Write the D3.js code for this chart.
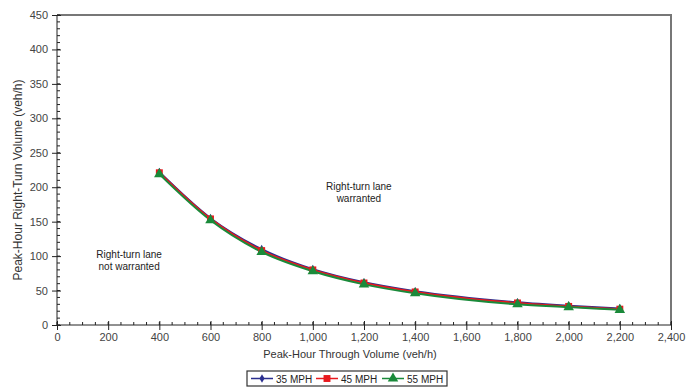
<!DOCTYPE html>
<html>
<head>
<meta charset="utf-8">
<script src="https://cdn.jsdelivr.net/npm/d3@7"></script>
<style>
  body { margin: 0; background: #fff; }
  text { font-family: "Liberation Sans", Arial, sans-serif; }
</style>
</head>
<body>
<div id="chart"></div>
<script>
// Data
const volumes = [400, 600, 800, 1000, 1200, 1400, 1800, 2000, 2200];
const mph35 = [222, 155, 110, 81, 62, 49, 33, 28, 24];
const mph45 = [221, 154, 108, 80, 61, 48, 32, 27, 23];
const mph55 = [219, 152, 106, 78, 59, 46, 30, 26, 22];
const seriesNames = ["35 MPH", "45 MPH", "55 MPH"];
const xTicks = [0, 200, 400, 600, 800, 1000, 1200, 1400, 1600, 1800, 2000, 2200, 2400];
const yTicks = [0, 50, 100, 150, 200, 250, 300, 350, 400, 450];

const W = 692, H = 388;
const margin = { top: 15, right: 21, bottom: 63, left: 57 };
const width = W - margin.left - margin.right,
      height = H - margin.top - margin.bottom;

const svg = d3.select("#chart").append("svg")
    .attr("width", W).attr("height", H);
const g = svg.append("g").attr("transform", `translate(${margin.left},${margin.top})`);

const x = d3.scaleLinear().domain([0, 2400]).range([0, width]);
const y = d3.scaleLinear().domain([0, 450]).range([height, 0]);

// top / right frame
g.append("path")
    .attr("d", `M0,0H${width}V${height}`)
    .attr("fill", "none").attr("stroke", "#777").attr("stroke-width", 2);

// minor ticks
g.append("g").selectAll("line").data(d3.range(0, 451, 10))
  .join("line")
    .attr("x1", 0).attr("x2", 3)
    .attr("y1", d => y(d)).attr("y2", d => y(d))
    .attr("stroke", "#222");
g.append("g").selectAll("line").data(d3.range(0, 2401, 50))
  .join("line")
    .attr("x1", d => x(d)).attr("x2", d => x(d))
    .attr("y1", height).attr("y2", height - 3)
    .attr("stroke", "#222");

// X axis
const xAxis = g.append("g")
    .attr("transform", `translate(0,${height})`)
    .call(d3.axisBottom(x).tickValues(xTicks).tickSize(5).tickFormat(d3.format(",")));
xAxis.selectAll(".tick line").attr("y1", -4).attr("stroke", "#222");
xAxis.select(".domain").attr("stroke", "#222").attr("d", `M0,0H${width}`);
xAxis.selectAll("text").attr("fill", "#444").style("font-size", "11px").attr("y", 8).attr("dy", "0.75em");

// Y axis
const yAxis = g.append("g")
    .call(d3.axisLeft(y).tickValues(yTicks).tickSize(5));
yAxis.selectAll(".tick line").attr("x1", -5).attr("x2", 4).attr("stroke", "#222");
yAxis.select(".domain").attr("stroke", "#222").attr("d", `M0,${height}V0`);
yAxis.selectAll("text").attr("fill", "#444").style("font-size", "11px").attr("x", -9);

// Axis titles
svg.append("text")
    .attr("x", 350).attr("y", 358)
    .attr("text-anchor", "middle").attr("fill", "#333").style("font-size", "11px")
    .text("Peak-Hour Through Volume (veh/h)");
svg.append("text")
    .attr("transform", `translate(22,180) rotate(-90)`)
    .attr("text-anchor", "middle").attr("fill", "#333").style("font-size", "12px")
    .text("Peak-Hour Right-Turn Volume (veh/h)");

// Annotations
const notes = [
  { lines: ["Right-turn lane", "warranted"], vx: 1180, vy: 196 },
  { lines: ["Right-turn lane", "not warranted"], vx: 282, vy: 97 }
];
notes.forEach(n => {
  const t = g.append("text")
      .attr("text-anchor", "middle").attr("fill", "#222").style("font-size", "10px");
  n.lines.forEach((l, i) => {
    t.append("tspan").attr("x", x(n.vx)).attr("y", y(n.vy) + i * 12).text(l);
  });
});

// Series
const series = [
  { name: seriesNames[0], values: mph35, color: "#2b2f8f", shape: d3.symbolDiamond, size: 22 },
  { name: seriesNames[1], values: mph45, color: "#e8191e", shape: d3.symbolSquare, size: 48 },
  { name: seriesNames[2], values: mph55, color: "#1a8a3a", shape: d3.symbolTriangle, size: 48 }
];

const line = d3.line()
    .x((d, i) => x(volumes[i]))
    .y(d => y(d))
    .curve(d3.curveMonotoneX);

series.forEach(s => {
  g.append("path")
      .datum(s.values)
      .attr("fill", "none")
      .attr("stroke", s.color)
      .attr("stroke-width", 2)
      .attr("d", line);
});
series.forEach(s => {
  g.append("g").selectAll("path")
    .data(s.values)
    .join("path")
      .attr("transform", (d, i) => `translate(${x(volumes[i])},${y(d)})`)
      .attr("d", d3.symbol().type(s.shape).size(s.size))
      .attr("fill", s.color);
});

// Legend
const lg = svg.append("g").attr("transform", "translate(247,371)");
lg.append("rect")
    .attr("width", 200).attr("height", 15)
    .attr("fill", "#fff").attr("stroke", "#333").attr("stroke-width", 1.2);
const itemX = [4, 69, 135];
series.forEach((s, i) => {
  const it = lg.append("g").attr("transform", `translate(${itemX[i]},7.5)`);
  it.append("line").attr("x1", 0).attr("x2", 22).attr("stroke", s.color).attr("stroke-width", 1.5);
  it.append("path")
      .attr("transform", "translate(11,0)")
      .attr("d", d3.symbol().type(s.shape).size(s.size))
      .attr("fill", s.color);
  it.append("text")
      .attr("x", 25).attr("y", 4)
      .attr("fill", "#222").style("font-size", "10px")
      .text(s.name);
});
</script>
</body>
</html>
